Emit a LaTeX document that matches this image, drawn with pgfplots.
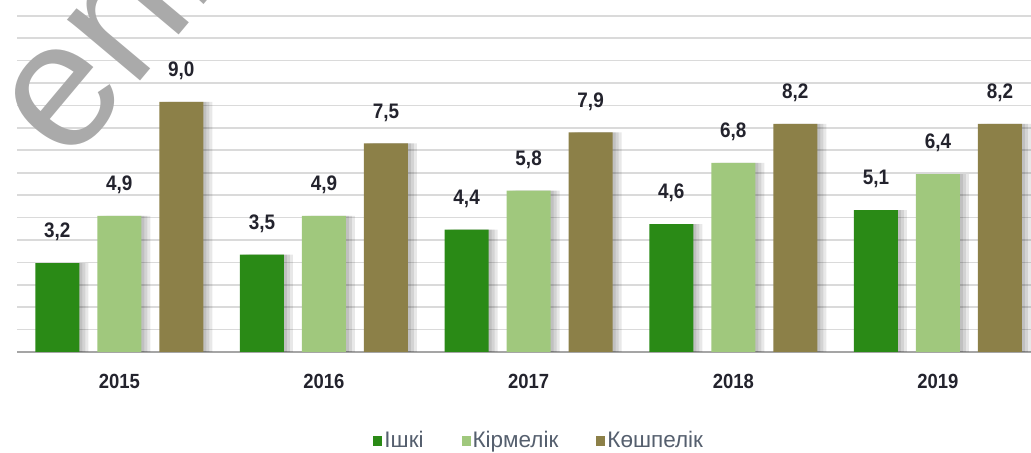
\documentclass[border=0pt]{standalone}
\usepackage{pgfplots}
\pgfplotsset{compat=1.18}
\usepackage{pgfplotstable}
\usepackage{fontspec}
\setmainfont{Liberation Sans}
\newfontfamily\narrowfont[FakeStretch=0.9]{Liberation Sans Bold}
\definecolor{cIsk}{RGB}{42,138,22}
\definecolor{cKir}{RGB}{160,200,125}
\definecolor{cKos}{RGB}{140,128,72}
\definecolor{gridc}{RGB}{218,218,218}
\definecolor{basec}{RGB}{165,165,165}
\definecolor{legtext}{RGB}{85,95,110}
\definecolor{labtext}{RGB}{35,35,45}
\definecolor{wm}{RGB}{170,170,170}

\pgfplotstableread{
x isk kir kos
0 3.2 4.9 9.0
1 3.5 4.9 7.5
2 4.4 5.8 7.9
3 4.6 6.8 8.2
4 5.1 6.4 8.2
}\datatable

\pgfplotsset{
  shadowbar/.style={forget plot, draw=none, fill=black, fill opacity=0.09},
  mainbar/.style={draw=none, fill=#1,
    nodes near coords,
    every node near coord/.append style={anchor=center, yshift=31bp,
      font=\narrowfont\fontsize{21bp}{24bp}\selectfont, text=labtext}},
}

\begin{document}
\begin{tikzpicture}[x=1bp,y=1bp]
\useasboundingbox (0,0) rectangle (1031,453);
\begin{axis}[
  at={(17bp,101bp)}, anchor=south west,
  scale only axis, width=1014bp, height=352bp,
  xmin=-0.5, xmax=4.455, ymin=0, ymax=12.66,
  ybar, bar width=44bp,
  axis x line*=bottom, axis y line*=left,
  x axis line style={draw=basec, line width=1.6bp, -},
  y axis line style={draw=none},
  xtick={0,1,2,3,4},
  xticklabels={2015,2016,2017,2018,2019},
  major tick length=0pt,
  ytick distance=0.806, yticklabels={},
  ytick style={draw=none}, xtick style={draw=none},
  ymajorgrids, grid style={draw=gridc, line width=1.6bp},
  xticklabel style={anchor=center, yshift=-29bp,
    font=\narrowfont\fontsize{20.5bp}{24bp}\selectfont, text=labtext},
  /pgf/number format/.cd, use comma, fixed, fixed zerofill, precision=1, assume math mode=true,
  /pgfplots/.cd,
  legend style={at={(0.515,-0.25)}, anchor=center, draw=none, fill=none,
    legend columns=3, font=\fontsize{22.5bp}{25bp}\selectfont, text=legtext,
    /tikz/every even column/.append style={column sep=36bp}},
  legend image code/.code={\fill[#1, draw=none] (0bp,-6bp) rectangle (9bp,4bp);},
]
% shadows
\addplot[shadowbar, bar shift=-59bp] table[x=x,y=isk] {\datatable};
\addplot[shadowbar, bar shift=-56bp] table[x=x,y=isk] {\datatable};
\addplot[shadowbar, bar shift=-53bp] table[x=x,y=isk] {\datatable};
\addplot[shadowbar, bar shift=3bp] table[x=x,y=kir] {\datatable};
\addplot[shadowbar, bar shift=6bp] table[x=x,y=kir] {\datatable};
\addplot[shadowbar, bar shift=9bp] table[x=x,y=kir] {\datatable};
\addplot[shadowbar, bar shift=65bp] table[x=x,y=kos] {\datatable};
\addplot[shadowbar, bar shift=68bp] table[x=x,y=kos] {\datatable};
\addplot[shadowbar, bar shift=71bp] table[x=x,y=kos] {\datatable};
% bars
\addplot[mainbar=cIsk, bar shift=-62bp] table[x=x,y=isk] {\datatable};
\addplot[mainbar=cKir, bar shift=0bp] table[x=x,y=kir] {\datatable};
\addplot[mainbar=cKos, bar shift=62bp] table[x=x,y=kos] {\datatable};
\legend{Ішкі, Кірмелік, Көшпелік}
\end{axis}
\node[overlay, rotate=50, text=wm, inner sep=0pt, anchor=base west,
  font=\fontsize{180bp}{180bp}\selectfont] at (68,286) {enbek};
\end{tikzpicture}
\end{document}
